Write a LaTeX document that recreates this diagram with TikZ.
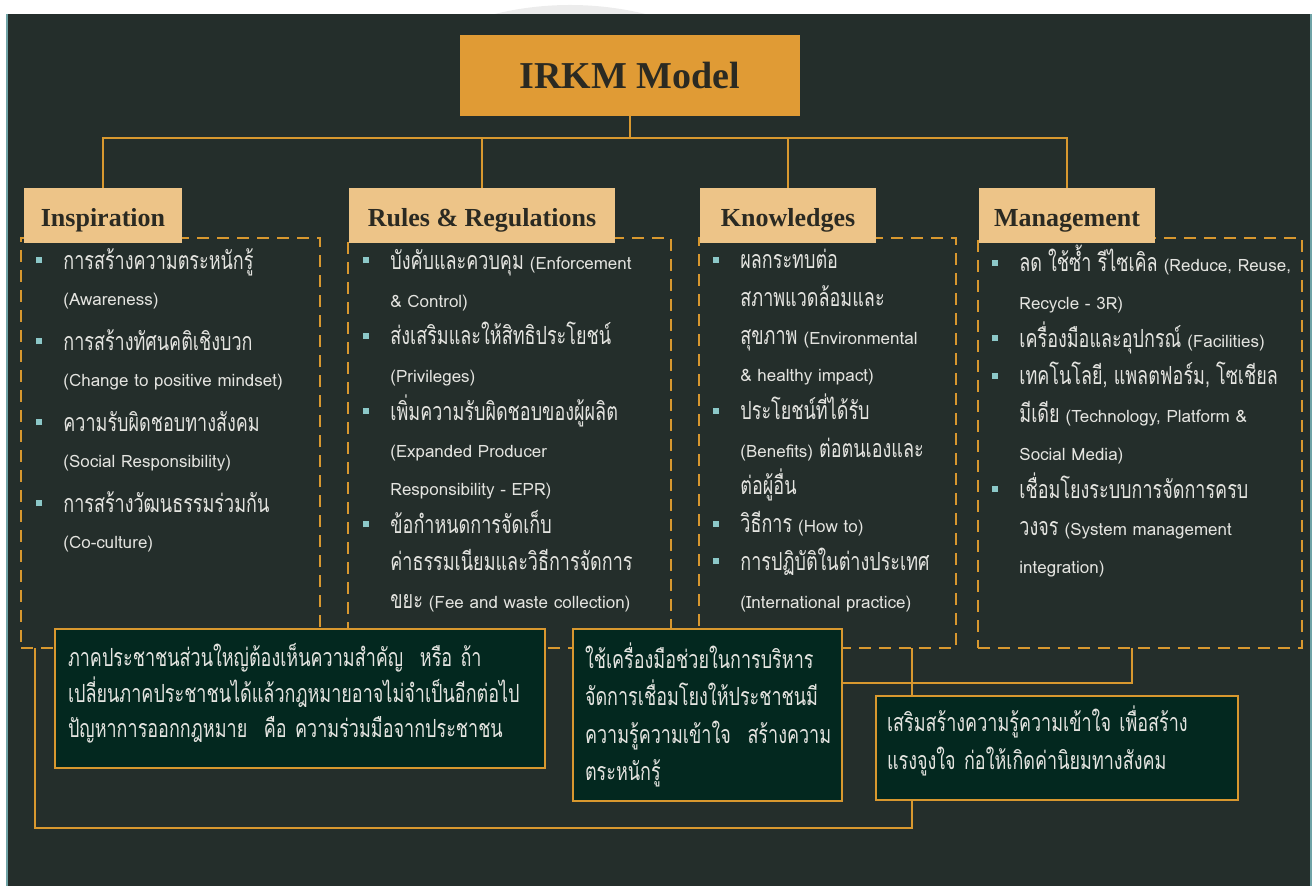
\documentclass[tikz,border=0pt]{standalone}
\usepackage{fontspec}
\setmainfont{Liberation Serif}
\newfontfamily\thai[Script=Thai,FakeStretch=0.72]{Loma}
\newfontfamily\latn{Loma}
\definecolor{bgdark}{HTML}{242E2B}
\definecolor{haze}{HTML}{ECECEC}
\definecolor{rim}{HTML}{6FA3A6}
\definecolor{orng}{HTML}{E09B35}
\definecolor{tan}{HTML}{EDC488}
\definecolor{wire}{HTML}{D8982F}
\definecolor{deep}{HTML}{03281F}
\definecolor{dot}{HTML}{8CC8C8}
\definecolor{ink}{HTML}{E4E4E0}
\definecolor{head}{HTML}{2B2A22}
\tikzstyle{title} = [rectangle, fill=orng, text=head, font=\bfseries\fontsize{19}{22}\selectfont, minimum width=170pt, minimum height=40.5pt, text height=15.5pt, text depth=2pt]
\tikzstyle{pillar} = [rectangle, fill=tan, text=head, font=\bfseries\fontsize{13}{15}\selectfont, minimum height=27.5pt, inner sep=0pt, text height=14pt, text depth=3pt]
\tikzstyle{panel} = [draw=wire, line width=1.3pt, dash pattern=on 6pt off 4pt, anchor=north west, inner sep=0pt, outer sep=0pt]
\tikzstyle{items} = [text=ink, align=left, anchor=north west, inner sep=0pt, font=\thai\fontsize{12.5}{18.85}\selectfont]
\tikzstyle{note} = [draw=wire, line width=0.9pt, fill=deep, text=ink, align=left, inner xsep=6pt, font=\thai\fontsize{12.5}{18.8}\selectfont]
\tikzstyle{link} = [draw=wire, line width=1.1pt]
\newcommand{\blt}{\llap{\textcolor{dot}{\rule[3pt]{3pt}{3pt}}\hspace{10.5pt}}}
\newcommand{\en}[1]{{\latn\fontsize{8.5}{10}\selectfont #1}}

\begin{document}
\begin{tikzpicture}[x=0.5pt,y=-0.5pt]%
	\useasboundingbox (0,0) rectangle (1315,886);%
	\fill[haze] (570,322) circle (317);%
	\fill[bgdark] (7,14) rectangle (1311,886);%
	\draw[rim, line width=1pt] (7,14) -- (7,886) (1311,14) -- (1311,886);%
	% dashed panels
	\node[panel, minimum width=149.5pt, minimum height=205pt] (pI) at (21,238) {};%
	\node[panel, minimum width=161.5pt, minimum height=205pt] (pR) at (348,238) {};%
	\node[panel, minimum width=128.5pt, minimum height=205pt] (pK) at (699,238) {};%
	\node[panel, minimum width=162pt, minimum height=205pt] (pM) at (978,238) {};%
	% model and the four pillars
	\node[title] (model) at (630,75.5) {IRKM Model};%
	\node[pillar, minimum width=79pt] (insp) at (103,215.5) {Inspiration};%
	\node[pillar, minimum width=133pt] (rules) at (482,215.5) {Rules \& Regulations};%
	\node[pillar, minimum width=88pt] (know) at (788,215.5) {Knowledges};%
	\node[pillar, minimum width=88pt] (mgmt) at (1067,215.5) {Management};%
	\draw[link] (model.south) -- (630,138) coordinate (bar);%
	\draw[link] (insp.north) |- (bar) -| (mgmt.north);%
	\draw[link] (rules.north) -- (rules.north |- bar);%
	\draw[link] (know.north) -- (know.north |- bar);%
	% panel texts
	\node[items, font=\thai\fontsize{12.5}{18}\selectfont] (tI) at (63,248) {%
		\blt การสร้างความตระหนักรู้\\ \en{(Awareness)}\\[4.5pt]
		\blt การสร้างทัศนคติเชิงบวก\\ \en{(Change to positive mindset)}\\[4.5pt]
		\blt ความรับผิดชอบทางสังคม\\ \en{(Social Responsibility)}\\[4.5pt]
		\blt การสร้างวัฒนธรรมร่วมกัน\\ \en{(Co-culture)}};%
	\node[items] (tR) at (390,249) {%
		\blt บังคับและควบคุม \en{(Enforcement}\\ \en{\& Control)}\\
		\blt ส่งเสริมและให้สิทธิประโยชน์\\ \en{(Privileges)}\\
		\blt เพิ่มความรับผิดชอบของผู้ผลิต\\ \en{(Expanded Producer}\\ \en{Responsibility - EPR)}\\
		\blt ข้อกำหนดการจัดเก็บ\\ ค่าธรรมเนียมและวิธีการจัดการ\\ ขยะ \en{(Fee and waste collection)}};%
	\node[items] (tK) at (740,249) {%
		\blt ผลกระทบต่อ\\ สภาพแวดล้อมและ\\ สุขภาพ \en{(Environmental}\\ \en{\& healthy impact)}\\
		\blt ประโยชน์ที่ได้รับ\\ \en{(Benefits)} ต่อตนเองและ\\ ต่อผู้อื่น\\
		\blt วิธีการ \en{(How to)}\\
		\blt การปฏิบัติในต่างประเทศ\\ \en{(International practice)}};%
	\node[items] (tM) at (1019,245) {%
		\blt ลด ใช้ซ้ำ รีไซเคิล \en{(Reduce, Reuse,}\\ \en{Recycle - 3R)}\\
		\blt เครื่องมือและอุปกรณ์ \en{(Facilities)}\\
		\blt เทคโนโลยี, แพลตฟอร์ม, โซเชียล\\ มีเดีย \en{(Technology, Platform \&}\\ \en{Social Media)}\\
		\blt เชื่อมโยงระบบการจัดการครบ\\ วงจร \en{(System management}\\ \en{integration)}};%
	% notes under the panels
	\node[note, inner xsep=6.5pt, text width=232pt, minimum height=69.5pt, text depth=43.5pt] (law) at (300,698.5) {%
		ภาคประชาชนส่วนใหญ่ต้องเห็นความสำคัญ~~หรือ~ถ้า\\[-1pt]
		เปลี่ยนภาคประชาชนได้แล้วกฎหมายอาจไม่จำเป็นอีกต่อไป\\[-1pt]
		ปัญหาการออกกฎหมาย~~คือ~ความร่วมมือจากประชาชน};%
	\node[note, text width=122.5pt, minimum height=86pt] (tool) at (707.5,715) {%
		ใช้เครื่องมือช่วยในการบริหาร\\
		จัดการเชื่อมโยงให้ประชาชนมี\\
		ความรู้ความเข้าใจ~~สร้างความ\\
		ตระหนักรู้};%
	\node[note, inner xsep=5.5pt, text width=170pt, minimum height=52pt, text depth=29pt] (aware) at (1057,748) {%
		เสริมสร้างความรู้ความเข้าใจ~เพื่อสร้าง\\
		แรงจูงใจ~ก่อให้เกิดค่านิยมทางสังคม};%
	% links from the panels to the notes
	\draw[link] (912,648) coordinate (kdrop) -- (kdrop |- aware.north);%
	\draw[link] (1132,648) coordinate (mdrop) |- (tool.east |- 0,683);%
	\draw[link] (35,648) coordinate (idrop) -- (35,828) -| (kdrop |- aware.south);%
\end{tikzpicture}
\end{document}
